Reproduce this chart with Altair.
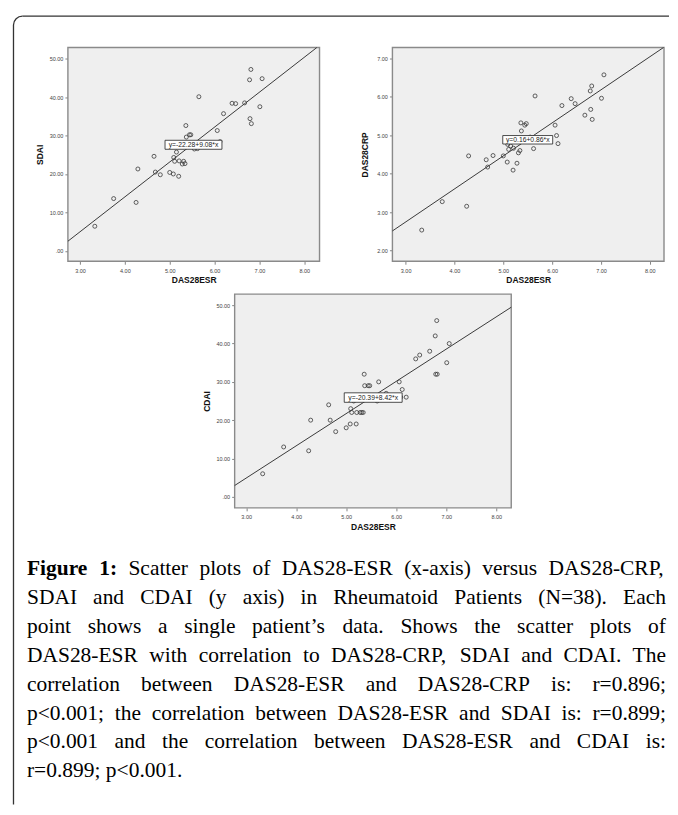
import altair as alt
import pandas as pd

# ---------------- data ----------------
DAS28ESR = [3.33, 3.75, 4.25, 4.29, 4.65, 4.68, 4.79, 5.00, 5.08, 5.20,
            5.09, 5.11, 5.21, 5.28, 5.31, 5.34, 5.36, 5.37, 5.44, 5.47,
            5.62, 5.65, 5.80, 6.06, 6.09, 6.12, 6.20, 6.39, 6.47, 6.67,
            6.78, 6.81, 6.79, 6.82, 7.01, 7.06, 5.15, 5.55]
DAS28CRP = [2.53, 3.27, 3.15, 4.46, 4.36, 4.17, 4.47, 4.46, 4.30, 4.09,
            4.76, 4.63, 4.66, 4.27, 4.54, 4.60, 5.32, 5.11, 5.26, 5.30,
            4.65, 6.02, 4.92, 5.26, 4.99, 4.78, 5.77, 5.95, 5.82, 5.52,
            6.15, 6.28, 5.67, 5.41, 5.96, 6.57, 4.72, 4.95]
SDAI = [6.4, 13.6, 12.6, 21.3, 24.6, 20.5, 19.8, 20.4, 20.0, 19.4,
        24.3, 23.3, 23.4, 22.6, 23.3, 22.7, 32.6, 29.6, 30.2, 30.2,
        26.6, 40.1, 27.8, 31.3, 27.3, 28.4, 35.7, 38.4, 38.3, 38.5,
        44.5, 47.2, 34.4, 33.1, 37.5, 44.8, 25.7, 26.5]
CDAI = [6, 13, 12, 20, 24, 20, 17, 18, 19, 19,
        23, 22, 22, 22, 22, 22, 32, 29, 29, 29,
        25, 30, 27, 30, 26, 28, 26, 36, 37, 38,
        42, 46, 32, 32, 35, 40, 25, 26]

FIT_SDAI = (-22.28, 9.08)
FIT_CRP = (0.16, 0.86)
FIT_CDAI = (-20.39, 8.42)
LABEL_SDAI = "y=-22.28+9.08*x"
LABEL_CRP = "y=0.16+0.86*x"
LABEL_CDAI = "y=-20.39+8.42*x"

X_TICKS = [3, 4, 5, 6, 7, 8]
SDAI_TICKS = [0, 10, 20, 30, 40, 50]
CRP_TICKS = [2, 3, 4, 5, 6, 7]
CDAI_TICKS = [0, 10, 20, 30, 40, 50]

CAPTION_LINES = [
    "Figure 1: Scatter plots of DAS28-ESR (x-axis) versus DAS28-CRP,",
    "SDAI and CDAI (y axis) in Rheumatoid Patients (N=38). Each",
    "point shows a single patient\u2019s data. Shows the scatter plots of",
    "DAS28-ESR with correlation to DAS28-CRP, SDAI and CDAI. The",
    "correlation between DAS28-ESR and DAS28-CRP is: r=0.896;",
    "p<0.001; the correlation between DAS28-ESR and SDAI is: r=0.899;",
    "p<0.001 and the correlation between DAS28-ESR and CDAI is:",
    "r=0.899; p<0.001.",
]
BOLD_WORDS = 2  # "Figure 1:"

# ---------------- layout (chart origin = top-left of panel 1 plot) ----------------
OX, OY = 67, 46            # page position of the origin
W, H = 597, 461            # whole figure region spanned by the three panels
FONT = "Liberation Sans"
INK = "#3a3a3a"


def panel(yvals, ytitle, xdom, ydom, yticks, fit, lab_xy, lab_text,
          box_w, box_h, xr, yr, xoff, yoff, title_pad):
    xs = alt.Scale(domain=xdom, range=xr, nice=False, zero=False)
    ys = alt.Scale(domain=ydom, range=yr, nice=False, zero=False)
    xaxis = alt.Axis(values=X_TICKS, format=".2f", title="DAS28ESR", orient="bottom",
                     offset=xoff, titlePadding=2, labelPadding=4)
    yaxis = alt.Axis(values=yticks, title=ytitle, orient="left", offset=yoff,
                     titlePadding=title_pad, labelPadding=2,
                     labelExpr="datum.value == 0 ? '.00' : format(datum.value, '.2f')")
    X = lambda f: alt.X(f, scale=xs, axis=xaxis)
    Y = lambda f: alt.Y(f, scale=ys, axis=yaxis)

    bgdf = pd.DataFrame({"x": [xdom[0]], "x2": [xdom[1]], "y": [ydom[0]], "y2": [ydom[1]]})
    bg = alt.Chart(bgdf).mark_rect(fill="#efefef", stroke="#8a8a8a", strokeWidth=1.4).encode(
        x=X("x:Q"), x2="x2:Q", y=Y("y:Q"), y2="y2:Q")

    df = pd.DataFrame({"x": DAS28ESR, "y": yvals})
    pts = alt.Chart(df).mark_point(shape="circle", filled=False, size=16,
                                   strokeWidth=0.8, color=INK, opacity=1).encode(
        x=X("x:Q"), y=Y("y:Q"))

    a, b = fit
    ends = []
    for xv in xdom:
        yv = a + b * xv
        if yv > ydom[1]:
            xv, yv = (ydom[1] - a) / b, ydom[1]
        if yv < ydom[0]:
            xv, yv = (ydom[0] - a) / b, ydom[0]
        ends.append((xv, yv))
    fdf = pd.DataFrame({"x": [e[0] for e in ends], "y": [e[1] for e in ends]})
    line = alt.Chart(fdf).mark_line(color=INK, strokeWidth=1).encode(x=X("x:Q"), y=Y("y:Q"))

    ldf = pd.DataFrame({"x": [lab_xy[0]], "y": [lab_xy[1]], "t": [lab_text]})
    r = box_h / box_w
    path = f"M-1,{-r:.4f}L1,{-r:.4f}L1,{r:.4f}L-1,{r:.4f}Z"
    box = alt.Chart(ldf).mark_point(shape=path, size=box_w ** 2, filled=True,
                                    fill="white", stroke="#222", strokeWidth=0.8,
                                    opacity=1).encode(x=X("x:Q"), y=Y("y:Q"))
    txt = alt.Chart(ldf).mark_text(font=FONT, fontSize=6.8, color="#222").encode(
        x=X("x:Q"), y=Y("y:Q"), text="t:N")
    return alt.layer(bg, pts, line, box, txt)


p1 = panel(SDAI, "SDAI", [2.73, 8.34], [-2.7, 52.9], SDAI_TICKS, FIT_SDAI,
           (5.53, 27.6), LABEL_SDAI, 57, 9, [0, 252], [214, 0], -247, 0, 5)
p2 = panel(DAS28CRP, "DAS28CRP", [2.73, 8.29], [1.72, 7.28], CRP_TICKS, FIT_CRP,
           (5.50, 4.88), LABEL_CRP, 50, 8.5, [325, 597], [214, 0], -247, -325, 7)
p3 = panel(CDAI, "CDAI", [2.77, 8.30], [-2.9, 52.9], CDAI_TICKS, FIT_CDAI,
           (5.54, 25.9), LABEL_CDAI, 58, 9.5, [167, 444], [461, 247], 0, -167, 4.5)

# ---------- outer frame with rounded top-left corner ----------
one = pd.DataFrame({"k": [0]})
FL, FT, RAD = 12.5 - OX, 14.5 - OY, 9
frame = [
    alt.Chart(one).mark_rule(color="#333", strokeWidth=1.3).encode(
        x=alt.value(FL), y=alt.value(FT + RAD), y2=alt.value(804 - OY)),
    alt.Chart(one).mark_rule(color="#333", strokeWidth=1.3).encode(
        y=alt.value(FT), x=alt.value(FL + RAD), x2=alt.value(669 - OX)),
    alt.Chart(one).mark_arc(color="#333", radius=RAD + 0.65, radius2=RAD - 0.65,
                            theta=4.7124, theta2=6.2832).encode(
        x=alt.value(FL + RAD), y=alt.value(FT + RAD)),
]

# ---------------- caption (justified, Times metrics = Liberation Serif) ----------------
LOWER = [444, 500, 444, 500, 444, 333, 500, 500, 278, 278, 500, 278, 778,
         500, 500, 500, 500, 333, 389, 278, 500, 500, 722, 500, 500, 444]
UPPER = [722, 667, 667, 722, 611, 556, 722, 722, 333, 389, 722, 611, 889,
         722, 722, 556, 722, 667, 556, 611, 722, 722, 944, 722, 722, 611]
PUNCT = {" ": 250, ".": 250, ",": 250, ":": 278, ";": 278, "-": 333, "(": 333,
         ")": 333, "=": 564, "<": 564, "\u2019": 333, "*": 500}
BOLD = {"F": 611, "i": 278, "g": 500, "u": 556, "r": 444, "e": 444, "1": 500, ":": 333}
FS = 21.5
LEFT, RIGHT = 26, 666
BASE0, LEAD = 574, 29.0


def wwidth(w, bold=False):
    tot = 0
    for c in w:
        if bold and c in BOLD:
            tot += BOLD[c]
        elif c.islower():
            tot += LOWER[ord(c) - 97]
        elif c.isupper():
            tot += UPPER[ord(c) - 65]
        elif c.isdigit():
            tot += 500
        else:
            tot += PUNCT.get(c, 500)
    return tot * FS / 1000


rows = []
for li, text in enumerate(CAPTION_LINES):
    words = text.split(" ")
    bolds = [li == 0 and k < BOLD_WORDS for k in range(len(words))]
    widths = [wwidth(w, bl) for w, bl in zip(words, bolds)]
    if li < len(CAPTION_LINES) - 1:
        gap = (RIGHT - LEFT - sum(widths)) / (len(words) - 1)
    else:
        gap = 250 * FS / 1000
    x = LEFT
    for w, bl, wd in zip(words, bolds, widths):
        rows.append({"w": w, "x": x - OX, "y": BASE0 + LEAD * li - OY,
                     "b": "bold" if bl else "normal"})
        x += wd + gap
cap_df = pd.DataFrame(rows)
idx = alt.Scale(domain=[0, 100], range=[0, 100])
cx = alt.X("x:Q", scale=idx, axis=None)
cy = alt.Y("y:Q", scale=idx, axis=None)
cap_norm = alt.Chart(cap_df).transform_filter("datum.b == 'normal'").mark_text(
    font="Liberation Serif", fontSize=FS, align="left", baseline="alphabetic",
    color="#000").encode(x=cx, y=cy, text="w:N")
cap_bold = alt.Chart(cap_df).transform_filter("datum.b == 'bold'").mark_text(
    font="Liberation Serif", fontSize=FS, fontWeight="bold", align="left",
    baseline="alphabetic", color="#000").encode(x=cx, y=cy, text="w:N")
caption = alt.layer(cap_norm, cap_bold)

chart = alt.layer(*frame, p1, p2, p3, caption).resolve_scale(
    x="independent", y="independent"
).properties(
    width=W, height=H,
    padding={"left": 4, "top": 6, "right": 0, "bottom": 0},
    background="white",
).configure_view(
    fill="transparent", stroke="transparent"
).configure_axis(
    labelFont=FONT, labelFontSize=5.5, labelColor="#444",
    tickColor="#666", tickSize=3, tickWidth=0.8,
    domain=False, grid=False,
    titleFont=FONT, titleFontSize=8.5, titleFontWeight="bold", titleColor="#111",
)

chart.save("out.html", embed_options={"renderer": "svg", "actions": False})
